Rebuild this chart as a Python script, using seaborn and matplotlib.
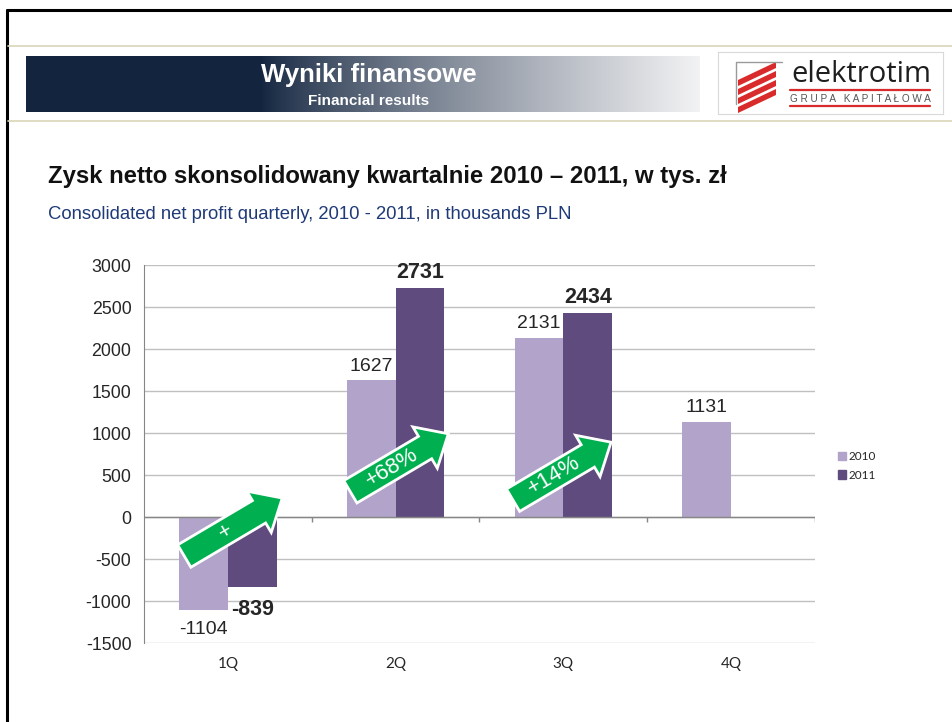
import numpy as np
import pandas as pd
import matplotlib
matplotlib.use("Agg")
import matplotlib.pyplot as plt
import matplotlib.patches as mpatches
import matplotlib.transforms as mtransforms
import seaborn as sns

# dane z wykresu
quarters = ["1Q", "2Q", "3Q", "4Q"]
years = ["2010", "2011"]
profit_2010 = [-1104, 1627, 2131, 1131]
profit_2011 = [-839, 2731, 2434, np.nan]
y_ticks = [-1500, -1000, -500, 0, 500, 1000, 1500, 2000, 2500, 3000]
arrow_labels = ["+", "+68%", "+14%"]

palette = {"2010": "#b1a3c9", "2011": "#5f4b7e"}
W, H = 953, 722

df = pd.DataFrame({
    "quarter": quarters * 2,
    "year": [years[0]] * 4 + [years[1]] * 4,
    "profit": profit_2010 + profit_2011,
})

sns.set_style("white")
plt.rcParams["font.family"] = ["Liberation Sans", "DejaVu Sans"]


def fx(px):
    return px / W


def fy(py):
    return 1 - py / H


fig = plt.figure(figsize=(W / 100, H / 100), dpi=100)

# ramka slajdu i linie
fig.add_artist(plt.Line2D([fx(7), 1], [fy(10), fy(10)], color="black", lw=2.2))
fig.add_artist(plt.Line2D([fx(7), fx(7)], [fy(10), 0], color="black", lw=2.2))
for yy in [46, 121]:
    fig.add_artist(plt.Line2D([fx(8), 1], [fy(yy), fy(yy)], color="#d9d6b8", lw=1.2))

# naglowek z gradientem
ax_head = fig.add_axes([fx(26), fy(112), fx(700) - fx(26), 56 / H])
xs = np.linspace(0, 1, 700)
t = np.clip((xs - 0.35) / 0.65, 0, 1) ** 0.8
navy = np.array([0.075, 0.145, 0.25])
light = np.array([0.95, 0.95, 0.955])
grad = navy[None, :] * (1 - t[:, None]) + light[None, :] * t[:, None]
ax_head.imshow(grad[None, :, :], aspect="auto", extent=[0, 1, 0, 1])
ax_head.axis("off")
fig.text(fx(369), fy(75), "Wyniki finansowe", color="white", fontsize=18.5,
         fontweight="bold", ha="center", va="center")
fig.text(fx(369), fy(101), "Financial results", color="white", fontsize=11,
         fontweight="bold", ha="center", va="center")

# logo
ax_logo = fig.add_axes([fx(718), fy(114), 225 / W, 62 / H])
ax_logo.set_xlim(0, 225)
ax_logo.set_ylim(62, 0)
ax_logo.set_xticks([])
ax_logo.set_yticks([])
for s in ax_logo.spines.values():
    s.set_color("#d9d9d9")
ax_logo.plot([18, 18, 64], [52, 10, 10], color="#9a9a9a", lw=1)
for i in range(4):
    y0 = 22 + i * 9
    ax_logo.add_patch(mpatches.Polygon(
        [(20, y0 + 12), (20, y0 + 6), (58, y0 - 12), (58, y0 - 6)],
        closed=True, color="#d92b2b", lw=0))
ax_logo.text(143, 22, "elektrotim", fontsize=21, color="#1e1e1e",
             ha="center", va="center", family=["Open Sans", "DejaVu Sans"])
ax_logo.plot([72, 212], [38, 38], color="#d92b2b", lw=1.6)
ax_logo.plot([72, 212], [54, 54], color="#d92b2b", lw=1.6)
ax_logo.text(142, 46.5, "G R U P A   K A P I T A Ł O W A", fontsize=7.2, color="#555555",
             ha="center", va="center")

# tytuly
fig.text(fx(48), fy(177), "Zysk netto skonsolidowany kwartalnie 2010 – 2011, w tys. zł",
         fontsize=17.2, fontweight="bold", color="#111111", ha="left", va="center")
fig.text(fx(48), fy(214), "Consolidated net profit quarterly, 2010 - 2011, in thousands PLN",
         fontsize=13.3, color="#1f3a78", ha="left", va="center")

# wykres
ax = fig.add_axes([fx(144), fy(643), (815 - 144) / W, (643 - 265) / H])
sns.barplot(data=df, x="quarter", y="profit", hue="year", order=quarters,
            hue_order=years, palette=palette, width=0.58, saturation=1,
            linewidth=0, legend=False, ax=ax)
ax.set_xlim(-0.5, 3.5)
ax.set_ylim(-1500, 3000)
ax.set_yticks(y_ticks)
ax.set_yticklabels([str(v) for v in y_ticks], fontsize=12.8)
ax.set_xlabel("")
ax.set_ylabel("")
ax.yaxis.grid(True, color="#c0c0c0", lw=1)
ax.set_axisbelow(True)
for side in ["top", "right", "bottom"]:
    ax.spines[side].set_visible(False)
ax.spines["left"].set_color("#868686")
ax.tick_params(axis="y", length=5, color="#868686", direction="out", pad=4)
ax.tick_params(axis="x", length=0, pad=10)
for lab in ax.get_xticklabels():
    lab.set_fontsize(11)
    lab.set_family(["Lato", "DejaVu Sans"])
ax.axhline(0, color="#868686", lw=1, zorder=1)
ax.vlines([0.5, 1.5, 2.5, 3.5], -60, 0, color="#868686", lw=1, zorder=1)

# etykiety wartosci (ujemne troche nizej)
for c, year in zip(ax.containers, years):
    vals = c.datavalues
    pos = ["" if np.isnan(v) or v < 0 else f"{v:.0f}" for v in vals]
    neg = ["" if np.isnan(v) or v >= 0 else f"{v:.0f}" for v in vals]
    kw = dict(fontsize=15.5, fontweight="bold") if year == "2011" else dict(fontsize=14)
    ax.bar_label(c, labels=pos, padding=4 if year == "2010" else 3, **kw)
    ax.bar_label(c, labels=neg, padding=8, **kw)

handles = [mpatches.Patch(color=palette[y]) for y in years]
leg = ax.legend(handles, years, loc="center left", bbox_to_anchor=(fx(827), fy(466)),
                bbox_transform=fig.transFigure, frameon=False, fontsize=8.5,
                handlelength=0.7, handleheight=0.7, labelspacing=0.6, handletextpad=0.25)
for txt in leg.get_texts():
    txt.set_family(["Lato", "DejaVu Sans"])

# strzalki wzrostu
arrow_tails = [(-0.26, -465), (0.73, 300), (1.70, 200)]
dx, dy = 98, 58
ang = np.degrees(np.arctan2(dy, dx))
for (qx, qv), lab in zip(arrow_tails, arrow_labels):
    x0, y0 = ax.transData.transform((qx, qv))
    arr = mpatches.FancyArrow(x0, y0, dx, dy, width=26, head_width=48, head_length=27,
                              length_includes_head=True, fc="#00b050", ec="white",
                              lw=2, transform=mtransforms.IdentityTransform(), zorder=10)
    fig.add_artist(arr)
    fig.text((x0 + 0.42 * dx) / W, (y0 + 0.42 * dy) / H, lab, color="white",
             fontsize=16, rotation=ang, rotation_mode="anchor", ha="center",
             va="center", zorder=11)

fig.savefig("out.png", dpi=100)
